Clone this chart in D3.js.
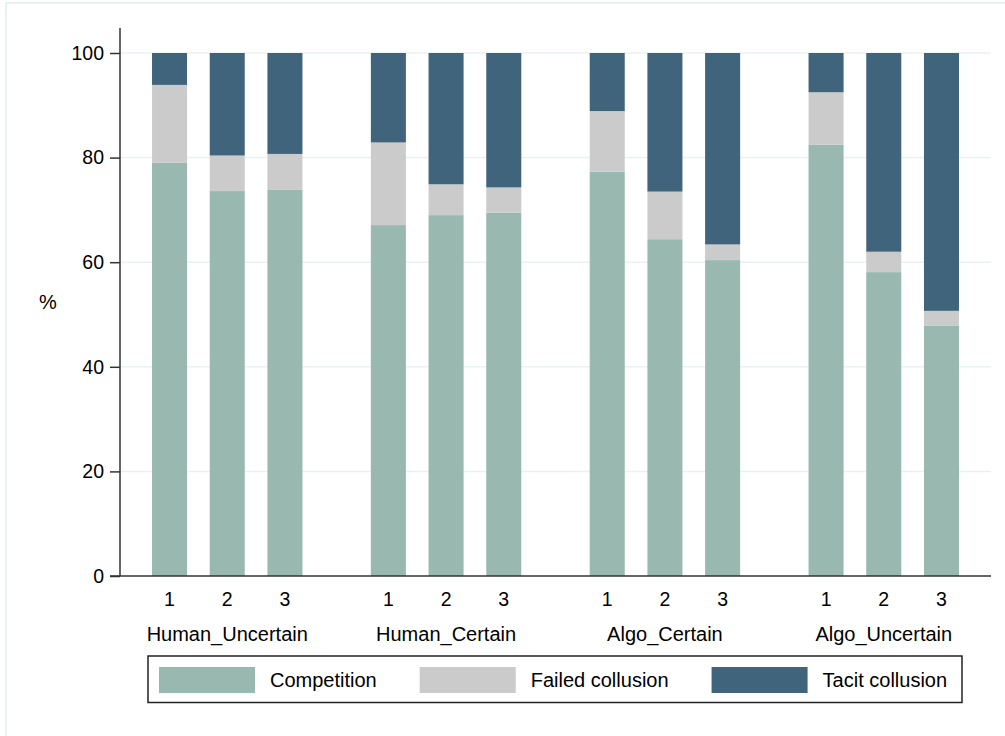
<!DOCTYPE html>
<html>
<head>
<meta charset="utf-8">
<script src="https://cdn.jsdelivr.net/npm/d3@7"></script>
<style>
  body { margin: 0; background: #fff; }
  svg { display: block; font-family: "Liberation Sans", Arial, sans-serif; }
</style>
</head>
<body>
<div id="chart"></div>
<script>
const groups = ['Human_Uncertain', 'Human_Certain', 'Algo_Certain', 'Algo_Uncertain'];
const rounds = ['1', '2', '3'];
const outcomes = ['Competition', 'Failed collusion', 'Tacit collusion'];
const colors = ['#98b8b0', '#cbcbcb', '#3f647b'];
const yTicks = [0, 20, 40, 60, 80, 100];

// shares in %, one entry per group x round
const competition = [79.0, 73.6, 73.9, 67.1, 69.0, 69.5, 77.3, 64.4, 60.4, 82.5, 58.1, 47.9];
const failed = [14.9, 6.8, 6.8, 15.8, 5.9, 4.8, 11.6, 9.1, 3.0, 10.0, 3.9, 2.8];
const tacit = competition.map((c, i) => 100 - c - failed[i]);

const rows = [];
groups.forEach((g, gi) => {
  rounds.forEach((r, ri) => {
    const k = gi * 3 + ri;
    rows.push({ group: g, round: r, Competition: competition[k], 'Failed collusion': failed[k], 'Tacit collusion': tacit[k] });
  });
});

const width = 1005;
const height = 736;
const plotLeft = 120;
const plotRight = 991;
const plotTop = 53;
const plotBottom = 576;
const ink = '#000';

const svg = d3.select('#chart').append('svg').attr('width', width).attr('height', height);

// outer frame
svg.append('rect')
  .attr('x', 6).attr('y', 3).attr('width', width + 10).attr('height', height + 10)
  .attr('fill', 'none').attr('stroke', '#eaf1f3').attr('stroke-width', 2);

const y = d3.scaleLinear().domain([0, 100]).range([plotBottom, plotTop]);
const xGroup = d3.scalePoint().domain(groups).range([plotLeft, plotRight]).padding(0.49);
const xRound = d3.scaleBand().domain(rounds).range([-86.55, 86.55]).paddingInner(0.393).paddingOuter(0.1965);

// gridlines
svg.append('g')
  .selectAll('line')
  .data(yTicks.filter((t) => t > 0))
  .join('line')
  .attr('x1', plotLeft).attr('x2', plotRight)
  .attr('y1', (d) => y(d)).attr('y2', (d) => y(d))
  .attr('stroke', '#eaf1f3').attr('stroke-width', 1.5);

// bars
const stack = d3.stack().keys(outcomes)(rows);
const color = d3.scaleOrdinal().domain(outcomes).range(colors);

svg.append('g')
  .selectAll('g')
  .data(stack)
  .join('g')
  .attr('fill', (d) => color(d.key))
  .selectAll('rect')
  .data((d) => d)
  .join('rect')
  .attr('x', (d) => xGroup(d.data.group) + xRound(d.data.round))
  .attr('width', xRound.bandwidth())
  .attr('y', (d) => y(d[1]))
  .attr('height', (d) => y(d[0]) - y(d[1]));

// y axis
const yAxis = svg.append('g')
  .attr('transform', `translate(${plotLeft},0)`)
  .call(d3.axisLeft(y).tickValues(yTicks).tickSize(10).tickPadding(6));
yAxis.select('.domain').remove();
yAxis.selectAll('line').attr('stroke', '#333').attr('stroke-width', 1.5);
yAxis.selectAll('text').attr('font-size', 19.5).attr('fill', ink).attr('font-family', '"Liberation Sans", Arial, sans-serif');

svg.append('line')
  .attr('x1', plotLeft).attr('x2', plotLeft).attr('y1', 28).attr('y2', plotBottom)
  .attr('stroke', '#333').attr('stroke-width', 1.5);
svg.append('line')
  .attr('x1', plotLeft - 10).attr('x2', plotRight).attr('y1', plotBottom).attr('y2', plotBottom)
  .attr('stroke', '#333').attr('stroke-width', 1.5);

svg.append('text')
  .attr('x', 48).attr('y', 302)
  .attr('text-anchor', 'middle').attr('dominant-baseline', 'central')
  .attr('font-size', 20).attr('fill', ink)
  .text('%');

// x labels
rows.forEach((d) => {
  svg.append('text')
    .attr('x', xGroup(d.group) + xRound(d.round) + xRound.bandwidth() / 2)
    .attr('y', 599)
    .attr('text-anchor', 'middle').attr('dominant-baseline', 'central')
    .attr('font-size', 19.5).attr('fill', ink)
    .text(d.round);
});
groups.forEach((g) => {
  svg.append('text')
    .attr('x', xGroup(g))
    .attr('y', 634)
    .attr('text-anchor', 'middle').attr('dominant-baseline', 'central')
    .attr('font-size', 20).attr('fill', ink)
    .text(g);
});

// legend
const legend = svg.append('g');
legend.append('rect')
  .attr('x', 148).attr('y', 656).attr('width', 814).attr('height', 46.5)
  .attr('fill', '#fff').attr('stroke', '#222').attr('stroke-width', 1.5);

let lx = 159;
outcomes.forEach((o) => {
  legend.append('rect')
    .attr('x', lx).attr('y', 667).attr('width', 96).attr('height', 26)
    .attr('fill', color(o));
  const t = legend.append('text')
    .attr('x', lx + 111).attr('y', 680)
    .attr('dominant-baseline', 'central')
    .attr('font-size', 20).attr('fill', ink)
    .text(o);
  lx = lx + 111 + t.node().getComputedTextLength() + 43;
});
</script>
</body>
</html>
